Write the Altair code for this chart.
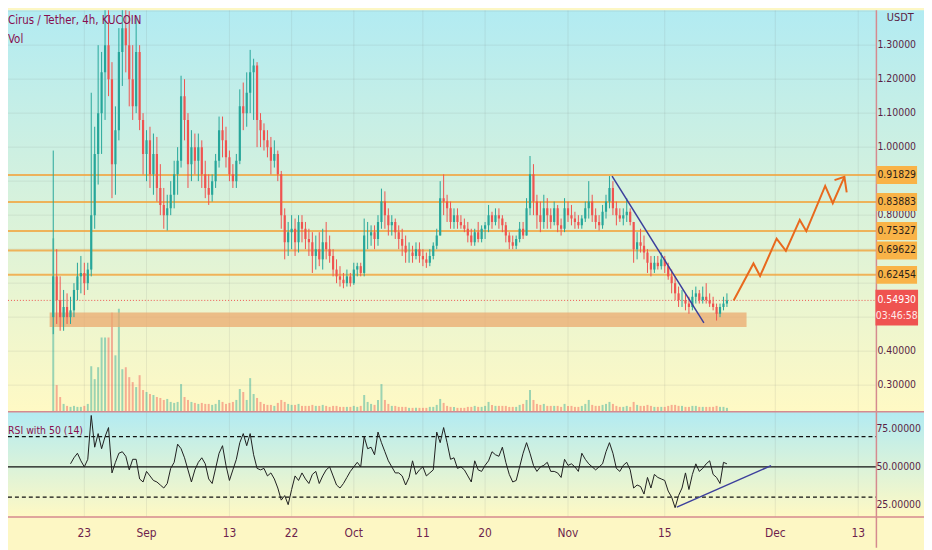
import altair as alt
import pandas as pd

# ---------------- data ----------------
candle_start = "2021-08-18 12:00"      # first candle, 12h candles
first_open = 0.50
close = [0.62,0.55,0.50,0.53,0.50,0.52,0.58,0.62,0.63,0.60,
 0.64,0.80,0.98,1.10,1.22,1.30,1.20,0.95,1.05,1.28,
 1.35,1.30,1.20,1.12,1.28,1.08,0.98,1.02,0.92,0.98,
 0.88,0.83,0.80,0.82,0.86,0.92,0.96,1.15,1.08,0.95,
 1.00,0.96,1.00,0.92,0.88,0.86,0.90,0.96,1.05,1.02,
 0.97,0.92,0.90,0.96,1.12,1.10,1.16,1.22,1.24,1.08,
 1.05,1.02,1.00,0.96,0.98,0.92,0.80,0.72,0.75,0.76,
 0.72,0.78,0.76,0.73,0.72,0.68,0.70,0.67,0.72,0.70,
 0.68,0.64,0.62,0.61,0.60,0.62,0.60,0.64,0.65,0.63,
 0.74,0.74,0.75,0.73,0.78,0.84,0.80,0.77,0.78,0.75,
 0.73,0.71,0.69,0.69,0.68,0.70,0.68,0.67,0.66,0.68,
 0.71,0.74,0.85,0.84,0.82,0.78,0.80,0.78,0.77,0.76,
 0.74,0.72,0.75,0.73,0.76,0.77,0.80,0.78,0.80,0.79,
 0.77,0.74,0.72,0.71,0.73,0.76,0.74,0.82,0.92,0.84,
 0.80,0.78,0.82,0.80,0.78,0.82,0.77,0.76,0.82,0.80,
 0.79,0.78,0.77,0.79,0.82,0.84,0.80,0.78,0.77,0.81,
 0.84,0.88,0.82,0.80,0.79,0.80,0.81,0.78,0.70,0.72,
 0.71,0.69,0.66,0.64,0.66,0.65,0.67,0.65,0.62,0.60,
 0.57,0.55,0.55,0.54,0.53,0.56,0.57,0.55,0.56,0.55,
 0.54,0.53,0.51,0.53,0.54,0.5493]
high = [0.99,0.70,0.62,0.58,0.57,0.56,0.60,0.66,0.68,0.66,
 0.66,1.16,1.06,1.30,1.28,1.43,1.43,1.25,1.12,1.35,
 1.43,1.43,1.40,1.30,1.38,1.30,1.10,1.05,1.06,1.04,
 1.03,0.95,0.88,0.86,0.90,0.96,1.00,1.21,1.20,1.10,
 1.05,1.04,1.04,1.02,0.96,0.92,0.92,0.98,1.09,1.09,
 1.06,0.99,0.95,0.98,1.17,1.19,1.22,1.286,1.26,1.25,
 1.10,1.07,1.05,1.03,1.02,0.99,0.93,0.82,0.78,0.80,
 0.79,0.80,0.80,0.78,0.76,0.75,0.74,0.75,0.76,0.78,
 0.74,0.70,0.67,0.65,0.63,0.64,0.63,0.66,0.66,0.66,
 0.79,0.78,0.77,0.77,0.80,0.878,0.87,0.82,0.80,0.79,
 0.77,0.76,0.74,0.72,0.71,0.72,0.72,0.70,0.69,0.70,
 0.72,0.76,0.90,0.92,0.86,0.84,0.82,0.82,0.80,0.79,
 0.78,0.76,0.76,0.78,0.77,0.78,0.83,0.81,0.82,0.82,
 0.80,0.78,0.75,0.74,0.74,0.78,0.78,0.85,0.974,0.95,
 0.86,0.84,0.86,0.85,0.82,0.84,0.83,0.79,0.85,0.84,
 0.83,0.81,0.80,0.80,0.84,0.90,0.86,0.82,0.80,0.83,
 0.86,0.915,0.90,0.84,0.82,0.82,0.85,0.82,0.78,0.75,
 0.76,0.74,0.70,0.68,0.68,0.68,0.69,0.68,0.66,0.64,
 0.62,0.59,0.58,0.57,0.56,0.58,0.59,0.58,0.59,0.60,
 0.57,0.56,0.54,0.54,0.56,0.57]
low = [0.45,0.48,0.46,0.46,0.48,0.48,0.50,0.55,0.57,0.565,
 0.58,0.62,0.76,0.89,0.98,1.08,1.15,0.85,0.86,1.02,
 1.18,1.22,1.12,1.08,1.10,1.05,0.92,0.90,0.88,0.86,
 0.84,0.80,0.76,0.755,0.80,0.82,0.86,0.94,1.02,0.88,
 0.90,0.92,0.90,0.88,0.85,0.83,0.84,0.88,0.94,0.97,
 0.94,0.90,0.88,0.88,0.95,1.05,1.06,1.10,1.08,1.00,
 1.00,0.99,0.97,0.92,0.94,0.90,0.76,0.67,0.68,0.70,
 0.68,0.69,0.72,0.70,0.68,0.63,0.64,0.65,0.64,0.67,
 0.66,0.62,0.60,0.59,0.585,0.59,0.59,0.595,0.62,0.62,
 0.62,0.70,0.71,0.70,0.71,0.76,0.76,0.74,0.74,0.73,
 0.70,0.68,0.66,0.66,0.66,0.67,0.66,0.65,0.645,0.65,
 0.67,0.70,0.74,0.80,0.78,0.76,0.76,0.76,0.76,0.75,
 0.72,0.71,0.71,0.72,0.72,0.73,0.75,0.76,0.77,0.76,
 0.75,0.72,0.70,0.70,0.70,0.72,0.73,0.74,0.80,0.80,
 0.76,0.75,0.76,0.76,0.76,0.77,0.75,0.74,0.75,0.78,
 0.77,0.76,0.76,0.76,0.78,0.79,0.78,0.76,0.755,0.76,
 0.79,0.82,0.80,0.77,0.78,0.77,0.78,0.77,0.66,0.67,
 0.69,0.67,0.63,0.62,0.63,0.64,0.64,0.63,0.61,0.57,
 0.55,0.53,0.53,0.52,0.51,0.52,0.54,0.54,0.54,0.54,
 0.53,0.52,0.49,0.50,0.52,0.53]
volume_k = [1750,270,150,80,60,50,60,50,50,60,
 80,460,330,450,750,750,750,1000,570,1040,
 430,450,350,300,250,370,220,200,180,170,
 150,140,120,130,100,90,100,280,150,120,
 100,90,80,90,80,80,70,80,120,100,
 80,90,100,120,230,200,120,340,180,140,
 100,80,70,70,60,90,120,100,80,70,
 70,80,60,60,60,70,60,60,70,60,
 50,60,60,50,50,50,50,60,50,60,
 170,100,80,70,120,280,120,80,60,60,
 50,50,50,40,40,40,40,40,40,50,
 50,70,130,90,60,50,50,40,40,40,
 50,50,60,50,50,60,100,70,60,60,
 60,60,50,50,50,70,80,120,220,120,
 80,70,80,60,60,60,60,50,80,60,
 60,50,50,60,80,120,70,60,60,70,
 80,100,80,60,50,50,60,50,100,70,
 60,60,70,60,50,50,50,50,60,70,
 70,60,60,50,50,60,60,50,50,50,
 50,50,60,50,50,40]
rsi_start_index = 5
rsi14 = [52,56,59,54,50,
 55,84,63,72,62,70,76,46,53,59,
 60,57,48,55,55,42,40,47,44,41,
 40,38,36,39,49,53,65,62,56,48,
 40,48,53,56,52,42,39,49,59,64,
 51,41,48,55,66,72,64,72,58,49,
 48,49,44,46,42,36,28,31,25,35,
 44,41,46,42,39,45,47,39,44,48,
 50,44,38,36,39,43,47,50,53,50,
 70,62,63,58,73,66,60,54,50,46,
 46,44,38,43,54,45,48,50,44,46,
 48,73,66,76,66,55,56,49,50,48,
 44,40,54,48,47,51,54,60,58,57,
 63,53,45,40,41,50,59,66,59,51,
 47,50,51,53,47,47,46,43,55,51,
 52,50,47,59,55,52,50,48,50,52,
 60,66,59,49,47,51,53,48,36,38,
 37,32,43,36,45,43,42,41,34,30,
 23,31,36,46,35,45,52,47,49,52,
 54,45,43,39,53,52]

price_ticks = [0.3, 0.4, 0.5, 0.6, 0.7, 0.8, 0.9, 1.0, 1.1, 1.2, 1.3, 1.4]
price_tick_labels = ["0.30000", "0.40000", "0.50000", "0.60000", "0.70000", "0.80000",
                     "0.90000", "1.00000", "1.10000", "1.20000", "1.30000", "1.40000"]
rsi_ticks = [25, 50, 75]
rsi_tick_labels = ["25.00000", "50.00000", "75.00000"]
date_ticks = ["2021-08-23", "2021-09-01", "2021-09-13", "2021-09-22", "2021-10-01", "2021-10-11",
              "2021-10-20", "2021-11-01", "2021-11-15", "2021-12-01", "2021-12-13"]
date_tick_labels = ["23", "Sep", "13", "22", "Oct", "11", "20", "Nov", "15", "Dec", "13"]

levels = [0.91829, 0.83883, 0.75327, 0.69622, 0.62454]
level_labels = ["0.91829", "0.83883", "0.75327", "0.69622", "0.62454"]
last_price = 0.54930
last_price_label = "0.54930"
countdown = "03:46:58"

zone_dates = ["2021-08-17 23:30", "2021-11-26 20:10"]
zone_prices = [0.471, 0.514]
trend_dates = ["2021-11-07 09:00", "2021-11-20 16:00"]
trend_prices = [0.915, 0.483]
path_dates = ["2021-11-24 23:20", "2021-11-27 20:10", "2021-11-28 19:10", "2021-12-01 04:30",
              "2021-12-02 12:45", "2021-12-04 13:00", "2021-12-05 11:45", "2021-12-08 05:15",
              "2021-12-09 07:40", "2021-12-11 00:00"]
path_prices = [0.549, 0.658, 0.621, 0.731, 0.695, 0.786, 0.753, 0.886, 0.835, 0.9125]
arrow_dates = ["2021-12-09 13:40", "2021-12-11 00:00", "2021-12-11 08:00"]
arrow_prices = [0.903, 0.9125, 0.867]
rsi_trend_dates = ["2021-11-16 18:00", "2021-11-30 09:20"]
rsi_trend_values = [23.4, 50.8]
rsi_dashed = [70, 30]
rsi_mid = [50]

title_text = "Cirus / Tether, 4h, KUCOIN"
vol_text = "Vol"
rsi_text = "RSI with 50 (14)"
unit_text = "USDT"

# ---------------- layout / style ----------------
W, H = 924, 542
MAIN_B = 405
RSI_T, RSI_B = 405, 511
AXIS_X = 876
LABEL_X = 896.5
FONT = "Liberation Sans Narrow, DejaVu Sans Condensed, Liberation Sans, sans-serif"
GREEN, RED = "#26a69a", "#ef5350"
INK = "#880e4f"
AXIS_INK = "#5a1f45"
SEP = "#d58a8f"
ORANGE = "#f2a33a"
BOX = "#f9b347"
NAVY = "#3c3f9c"
P_TOP, P_BOT = 1.40233, 0.22157
PX_PER_PRICE = MAIN_B / (P_TOP - P_BOT)   # only used to hide labels under boxes


def ms(s):
    return int(pd.Timestamp(s, tz="UTC").value // 10**6)


XS = alt.Scale(type="utc", domain=[ms("2021-08-11 22:52"), ms("2021-12-22 12:30")], nice=False)
PS = alt.Scale(domain=[P_BOT, P_TOP], range=[MAIN_B, 0], nice=False, zero=False)
RS = alt.Scale(domain=[16.89, 86.39], range=[RSI_B, RSI_T], nice=False, zero=False)
VS = alt.Scale(domain=[0, 4050], range=[MAIN_B, 0], nice=False, zero=False)


def X(f):
    return alt.X(f, type="temporal", scale=XS, axis=None)


def YP(f):
    return alt.Y(f, type="quantitative", scale=PS, axis=None)


def YR(f):
    return alt.Y(f, type="quantitative", scale=RS, axis=None)


times = pd.date_range(candle_start, periods=len(close), freq="12h", tz="UTC")
t_ms = [int(t.value // 10**6) for t in times]
opens = [first_open] + close[:-1]
candles = pd.DataFrame(dict(t=t_ms, open=opens, high=high, low=low, close=close, vol=volume_k))
rsi_df = pd.DataFrame(dict(t=t_ms[rsi_start_index:rsi_start_index + len(rsi14)], rsi=rsi14))

# as on the price scale itself: tick labels hidden under a level box, the price box or the unit label
covered = [p for p in price_ticks
           if any(abs(p - lv) * PX_PER_PRICE < 10.5 for lv in levels)
           or -12 < (last_price - p) * PX_PER_PRICE < 27
           or (P_TOP - p) * PX_PER_PRICE < 8]
shown = [(p, l) for p, l in zip(price_ticks, price_tick_labels) if p not in covered]

one = pd.DataFrame({"a": [0]})
ptick_df = pd.DataFrame(dict(p=price_ticks, label=price_tick_labels))
plabel_df = pd.DataFrame(dict(p=[s[0] for s in shown], label=[s[1] for s in shown]))
rtick_df = pd.DataFrame(dict(v=rsi_ticks, label=rsi_tick_labels))
date_df = pd.DataFrame(dict(t=[ms(d) for d in date_ticks], label=date_tick_labels))
level_df = pd.DataFrame(dict(p=levels, label=level_labels))
last_df = pd.DataFrame(dict(p=[last_price], label=[last_price_label], cd=[countdown]))
zone_df = pd.DataFrame(dict(t0=[ms(zone_dates[0])], t1=[ms(zone_dates[1])], p0=[zone_prices[0]], p1=[zone_prices[1]]))
trend_df = pd.DataFrame(dict(t=[ms(d) for d in trend_dates], p=trend_prices))
path_df = pd.DataFrame(dict(t=[ms(d) for d in path_dates], p=path_prices, i=list(range(len(path_dates)))))
arrow_df = pd.DataFrame(dict(t=[ms(d) for d in arrow_dates], p=arrow_prices, i=list(range(len(arrow_dates)))))
rsi_trend_df = pd.DataFrame(dict(t=[ms(d) for d in rsi_trend_dates], v=rsi_trend_values))
rsi_dash_df = pd.DataFrame(dict(v=rsi_dashed))
rsi_mid_df = pd.DataFrame(dict(v=rsi_mid))

grad = alt.LinearGradient(gradient="linear",
                          stops=[alt.GradientStop(color="#b2ebf2", offset=0),
                                 alt.GradientStop(color="#fff9c4", offset=1)],
                          x1=0, x2=0, y1=0, y2=1)
updown = alt.condition("datum.close >= datum.open", alt.value(GREEN), alt.value(RED))

bg_main = alt.Chart(one).mark_rect(fill=grad, strokeWidth=0).encode(
    x=alt.value(0), x2=alt.value(W), y=alt.value(0), y2=alt.value(MAIN_B))
bg_rsi = alt.Chart(one).mark_rect(fill=grad, strokeWidth=0).encode(
    x=alt.value(0), x2=alt.value(W), y=alt.value(RSI_T), y2=alt.value(RSI_B))

grid_h = alt.Chart(ptick_df).mark_rule(color="#6b6b6b", opacity=0.12, strokeWidth=1).encode(
    y=YP("p"), x=alt.value(0), x2=alt.value(AXIS_X))
grid_v = alt.Chart(date_df).mark_rule(color="#6b6b6b", opacity=0.12, strokeWidth=1).encode(
    x=X("t"), y=alt.value(0), y2=alt.value(RSI_B))

vol_layer = alt.Chart(candles).mark_rule(strokeWidth=2, opacity=0.45).encode(
    x=X("t"), y=alt.Y("vol:Q", scale=VS, axis=None), y2=alt.value(MAIN_B), color=updown)

zone = alt.Chart(zone_df).mark_rect(color="#eba96f", opacity=0.75).encode(
    x=X("t0"), x2="t1", y=YP("p0"), y2="p1")

level_lines = alt.Chart(level_df).mark_rule(color=ORANGE, strokeWidth=2, opacity=0.8).encode(
    y=YP("p"), x=alt.value(0), x2=alt.value(AXIS_X))
last_line = alt.Chart(last_df).mark_rule(color=RED, strokeDash=[1, 2], strokeWidth=1).encode(
    y=YP("p"), x=alt.value(0), x2=alt.value(AXIS_X))

wicks = alt.Chart(candles).mark_rule(strokeWidth=1, clip=True).encode(
    x=X("t"), y=YP("low"), y2="high", color=updown)
bodies = alt.Chart(candles).mark_rule(strokeWidth=2.2, clip=True).encode(
    x=X("t"), y=YP("open"), y2="close", color=updown)

trend = alt.Chart(trend_df).mark_line(color=NAVY, strokeWidth=1.5).encode(x=X("t"), y=YP("p"))
path = alt.Chart(path_df).mark_line(color="#e8691e", strokeWidth=2).encode(x=X("t"), y=YP("p"), order="i:Q")
arrow = alt.Chart(arrow_df).mark_line(color="#e8691e", strokeWidth=2).encode(x=X("t"), y=YP("p"), order="i:Q")

rsi_dash = alt.Chart(rsi_dash_df).mark_rule(color="#111111", strokeDash=[4, 3], strokeWidth=1.3).encode(
    y=YR("v"), x=alt.value(0), x2=alt.value(AXIS_X))
rsi_mid_line = alt.Chart(rsi_mid_df).mark_rule(color="#111111", strokeWidth=1.3).encode(
    y=YR("v"), x=alt.value(0), x2=alt.value(AXIS_X))
rsi_line = alt.Chart(rsi_df).mark_line(color="#1e1e1e", strokeWidth=1).encode(x=X("t"), y=YR("rsi"))
rsi_trend = alt.Chart(rsi_trend_df).mark_line(color=NAVY, strokeWidth=1.5).encode(x=X("t"), y=YR("v"))

sep1 = alt.Chart(one).mark_rule(color=SEP, strokeWidth=1.5).encode(
    x=alt.value(0), x2=alt.value(W), y=alt.value(RSI_T))
sep2 = alt.Chart(one).mark_rule(color=SEP, strokeWidth=1.5).encode(
    x=alt.value(0), x2=alt.value(W), y=alt.value(RSI_B))
sep3 = alt.Chart(one).mark_rule(color=SEP, strokeWidth=1.5).encode(
    x=alt.value(AXIS_X), y=alt.value(0), y2=alt.value(H))

price_labels = alt.Chart(plabel_df).mark_text(font=FONT, fontSize=10.5, color=AXIS_INK, align="center",
                                              baseline="middle").encode(
    x=alt.value(LABEL_X), y=YP("p"), text="label:N")
box_shape = "M-1,-0.44L1,-0.44L1,0.44L-1,0.44Z"
level_boxes = alt.Chart(level_df).mark_point(shape=box_shape, size=1681, filled=True, color=BOX,
                                             opacity=1, strokeWidth=0).encode(x=alt.value(LABEL_X), y=YP("p"))
level_text = alt.Chart(level_df).mark_text(font=FONT, fontSize=10.5, color="#2b2218", align="center",
                                           baseline="middle").encode(
    x=alt.value(LABEL_X), y=YP("p"), text="label:N")
red_shape = "M-1,-0.5L1,-0.5L1,1.18L-1,1.18Z"
red_box = alt.Chart(last_df).mark_point(shape=red_shape, size=1849, filled=True, color=RED,
                                        opacity=1, strokeWidth=0).encode(x=alt.value(LABEL_X), y=YP("p"))
red_text = alt.Chart(last_df).mark_text(font=FONT, fontSize=10.5, color="white", align="center",
                                        baseline="middle").encode(
    x=alt.value(LABEL_X), y=YP("p"), text="label:N")
red_cd = alt.Chart(last_df).mark_text(font=FONT, fontSize=10.5, color="#ffe9e9", align="center",
                                      baseline="middle", dy=16).encode(
    x=alt.value(LABEL_X), y=YP("p"), text="cd:N")
usdt = alt.Chart(one).mark_text(font=FONT, fontSize=11, color=AXIS_INK, align="center",
                                baseline="middle", text=unit_text).encode(x=alt.value(900), y=alt.value(8))

rsi_labels = alt.Chart(rtick_df).mark_text(font=FONT, fontSize=10.5, color=AXIS_INK, align="center",
                                           baseline="middle").encode(
    x=alt.value(LABEL_X + 2), y=YR("v"), text="label:N")
date_labels = alt.Chart(date_df).mark_text(font=FONT, fontSize=12, color="#6e1f4d", align="center",
                                           baseline="middle").encode(
    x=X("t"), y=alt.value(527), text="label:N")

title = alt.Chart(one).mark_text(font=FONT, fontSize=11.5, color=INK, align="left", baseline="middle",
                                 text=title_text).encode(x=alt.value(0), y=alt.value(11))
vol_title = alt.Chart(one).mark_text(font=FONT, fontSize=11.5, color=INK, align="left", baseline="middle",
                                     text=vol_text).encode(x=alt.value(0), y=alt.value(30))
rsi_title = alt.Chart(one).mark_text(font=FONT, fontSize=10.5, color=INK, align="left", baseline="middle",
                                     text=rsi_text).encode(x=alt.value(0), y=alt.value(424))

chart = alt.layer(
    bg_main, bg_rsi, grid_h, grid_v, vol_layer, zone, level_lines, last_line,
    wicks, bodies, trend, path, arrow,
    rsi_dash, rsi_mid_line, rsi_line, rsi_trend,
    sep1, sep2, sep3,
    price_labels, level_boxes, level_text, red_box, red_text, red_cd, usdt,
    rsi_labels, date_labels, title, vol_title, rsi_title,
).resolve_scale(y="independent").properties(
    width=W, height=H, padding=0,
    autosize=alt.AutoSizeParams(type="none"),
    background="#fdf7c4",
).configure_view(stroke=None)

chart.save("out.html", embed_options={"renderer": "svg", "actions": False})
